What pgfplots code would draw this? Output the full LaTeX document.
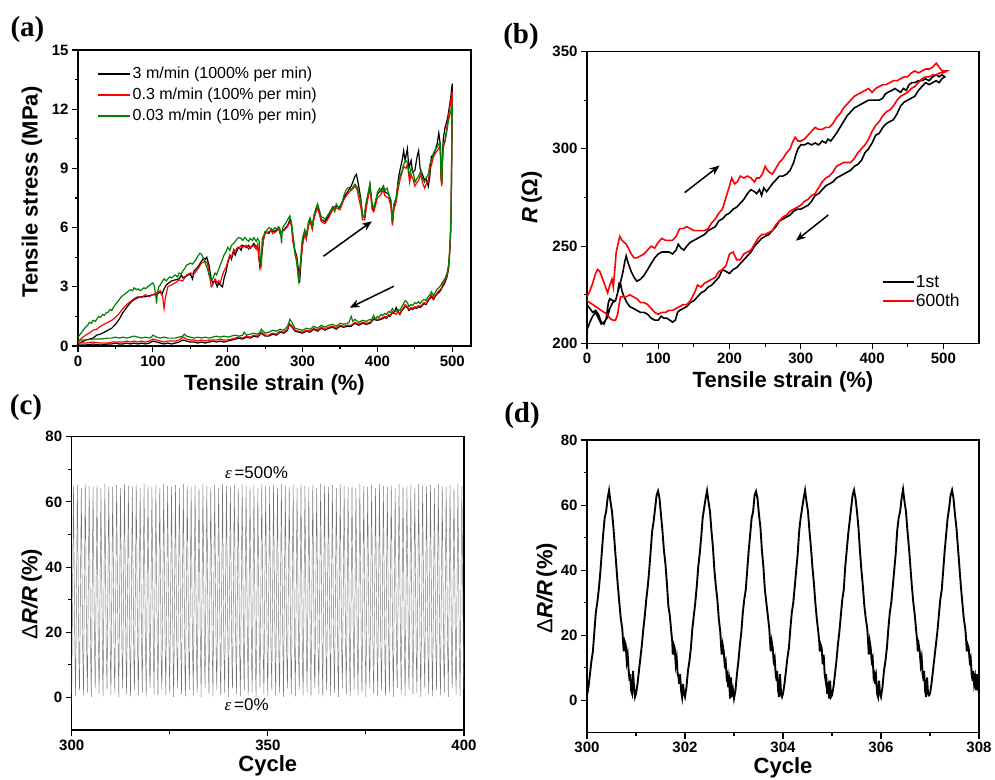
\documentclass[border=0pt]{standalone}
\usepackage{fontspec}
\setmainfont{Liberation Serif}
\setsansfont{Liberation Sans}
\usepackage{pgfplots}
\pgfplotsset{compat=1.18}
\usetikzlibrary{arrows.meta}
\definecolor{ogreen}{RGB}{0,128,0}
\definecolor{ored}{RGB}{255,0,0}
\newcommand{\tlfont}{\sffamily\bfseries\fontsize{15}{16}\selectfont}
\pgfplotsset{
  legend image code/.code={\draw[#1] (0pt,0pt) -- (31pt,0pt);},
  panel/.style={
    scale only axis,
    axis line style={line width=1.2pt},
    every tick/.style={line width=1.1pt, black},
    major tick length=6pt, minor tick length=3.5pt,
    tick align=outside,
    xtick pos=left, ytick pos=left,
    minor x tick num=1, minor y tick num=1,
    /pgf/number format/assume math mode=true,
    /pgf/number format/1000 sep={},
    xticklabel={\tlfont\pgfmathprintnumber{\tick}},
    yticklabel={\tlfont\pgfmathprintnumber{\tick}},
    tick label style={font=\tlfont},
    label style={font=\sffamily\bfseries\fontsize{22}{26}\selectfont},
    xlabel style={anchor=center},
    ylabel style={anchor=center},
    legend cell align=left,
  }
}
\begin{document}
\begin{tikzpicture}
\useasboundingbox (0,0) rectangle (995pt,779pt);
% ---------------- (a)
\begin{axis}[panel, at={(78pt,433pt)}, width=393pt, height=296pt,
  xmin=0, xmax=525, ymin=0, ymax=15,
  xtick={0,100,...,500}, ytick={0,3,...,15},
  xlabel={Tensile strain (\%)}, ylabel={Tensile stress (MPa)},
  xlabel style={at={(axis description cs:0.5,-0.132)}},
  ylabel style={at={(axis description cs:-0.117,0.52)}},
]
\addplot[black, line width=1.2pt] coordinates {
(0,0.15)(5,0.2)(10,0.3)(15,0.35)(20,0.4)(25,0.55)(30,0.6)(35,0.7)(40,0.8)(45,0.9)(50,1.1)(55,1.35)(60,1.7)(65,1.95)(70,2.2)(75,2.35)(80,2.45)(85,2.5)(90,2.5)(95,2.55)(100,2.6)(105,2.6)(110,2.75)(112,2.6)(115,2.9)(118,3.1)(120,3.15)(125,3.3)(130,3.35)(135,3.4)(138,3.6)(140,3.45)(145,3.55)(150,3.65)(153,3.4)(155,3.8)(160,4.0)(165,4.3)(168,4.45)(170,4.4)(172,4.5)(175,4.1)(178,3.4)(180,3.2)(183,3.3)(186,3.0)(188,3.2)(190,3.1)(193,3.0)(195,3.4)(198,3.8)(200,4.2)(203,4.6)(205,4.4)(208,4.8)(210,4.6)(213,4.9)(215,5.0)(218,4.85)(220,5.1)(225,5.0)(228,5.1)(230,4.95)(235,5.2)(238,5.0)(240,5.1)(242,4.4)(243,4.0)(245,4.4)(248,5.5)(250,5.8)(255,5.7)(258,5.9)(260,5.8)(265,5.85)(268,6.0)(270,5.7)(275,5.9)(280,6.1)(283,6.4)(285,6.2)(287,5.5)(290,4.8)(292,4.6)(294,4.0)(296,3.2)(298,4.3)(300,5.2)(303,5.8)(305,5.5)(308,6.2)(310,6.4)(313,6.0)(315,6.5)(318,6.9)(320,7.1)(323,6.7)(325,6.4)(330,6.3)(335,6.6)(340,7.0)(345,7.1)(350,7.0)(355,7.5)(360,7.8)(365,8.1)(368,8.4)(370,8.6)(372,8.7)(375,8.1)(378,7.4)(380,6.6)(383,6.5)(386,7.4)(390,8.2)(393,7.0)(395,6.9)(398,7.4)(400,7.7)(405,7.9)(408,8.1)(410,7.8)(415,7.7)(418,7.3)(420,6.2)(422,7.1)(425,7.5)(428,8.5)(430,8.9)(433,9.4)(435,9.9)(437,9.4)(440,10.0)(442,9.0)(445,9.4)(447,8.8)(450,8.9)(453,9.6)(455,9.9)(457,9.0)(460,8.7)(463,8.4)(465,8.5)(468,8.1)(470,8.6)(472,9.6)(475,9.7)(478,10.0)(480,10.3)(482,10.8)(484,10.2)(485,8.8)(486,8.2)(487,9.8)(488,10.5)(490,11.0)(492,11.3)(494,11.6)(496,12.1)(498,12.6)(499,13.0)(500,13.3)
(499.5,10.5)(499,8.5)(498.5,7.0)(498,5.9)(497,5.0)(496,4.4)(495,3.9)(493,3.5)(490,3.2)(487,3.0)(485,2.85)(482,2.7)(480,2.65)(477,2.5)(475,2.35)(472,2.5)(470,2.4)(467,2.25)(465,2.1)(462,2.15)(460,2.05)(457,1.95)(455,2.0)(452,1.9)(450,1.95)(447,1.85)(445,1.9)(442,1.8)(440,1.95)(437,2.0)(435,1.9)(432,1.75)(430,1.6)(427,1.8)(425,1.95)(422,1.65)(420,1.7)(417,1.5)(415,1.55)(412,1.4)(410,1.45)(405,1.35)(400,1.3)(395,1.35)(390,1.15)(385,1.1)(380,1.15)(375,1.05)(370,1.15)(365,1.0)(360,1.0)(355,0.95)(350,1.0)(345,0.85)(340,0.95)(335,0.9)(330,0.8)(325,0.9)(320,0.75)(315,0.85)(310,0.7)(305,0.75)(300,0.65)(295,0.7)(290,0.75)(285,1.0)(282,1.1)(280,0.8)(275,0.65)(270,0.7)(265,0.55)(260,0.6)(255,0.5)(250,0.5)(245,0.65)(240,0.45)(235,0.5)(230,0.4)(225,0.45)(220,0.35)(215,0.4)(210,0.35)(205,0.3)(200,0.25)(195,0.2)(190,0.25)(185,0.2)(180,0.25)(175,0.2)(170,0.15)(165,0.2)(160,0.15)(155,0.2)(150,0.2)(145,0.25)(140,0.3)(135,0.2)(130,0.15)(125,0.1)(120,0.15)(115,0.1)(110,0.15)(105,0.2)(100,0.25)(95,0.15)(90,0.1)(85,0.15)(80,0.1)(75,0.15)(70,0.1)(65,0.15)(60,0.1)(55,0.1)(50,0.15)(45,0.1)(40,0.1)(30,0.05)(20,0.1)(10,0.05)(0,0.05)
};
\addplot[ored, line width=1.2pt] coordinates {
(0,0.2)(5,0.4)(10,0.55)(15,0.65)(20,0.8)(25,0.85)(30,1.0)(35,1.1)(40,1.2)(45,1.3)(50,1.45)(55,1.65)(60,1.9)(65,2.1)(70,2.25)(75,2.4)(80,2.5)(85,2.45)(90,2.6)(95,2.5)(100,2.6)(105,2.7)(110,2.8)(113,2.5)(115,1.9)(117,2.5)(120,3.0)(125,3.1)(130,3.2)(135,3.35)(140,3.3)(145,3.6)(150,3.7)(155,3.65)(160,3.9)(165,4.2)(170,4.3)(173,4.2)(176,3.5)(178,3.0)(180,3.1)(183,3.4)(186,3.2)(188,3.3)(190,3.2)(193,3.6)(195,3.8)(198,4.0)(200,4.3)(203,4.6)(205,4.5)(208,4.9)(210,4.8)(213,5.0)(215,4.95)(218,5.1)(220,5.0)(225,5.1)(228,4.9)(230,5.0)(235,5.1)(238,4.9)(240,5.15)(242,4.3)(244,4.0)(246,5.0)(248,5.4)(250,5.7)(255,5.8)(258,5.85)(260,5.7)(265,5.8)(268,5.95)(270,5.75)(275,5.85)(280,6.05)(283,6.3)(285,6.1)(287,5.3)(290,4.7)(292,4.5)(294,3.6)(295,3.2)(297,4.1)(300,5.1)(303,5.7)(305,5.4)(308,6.1)(310,6.3)(313,5.9)(315,6.4)(318,6.8)(320,7.0)(323,6.6)(325,6.3)(330,6.2)(335,6.5)(340,6.9)(345,7.0)(350,6.9)(355,7.4)(360,7.7)(365,7.9)(368,8.0)(370,8.1)(373,7.9)(375,7.5)(378,7.0)(380,6.4)(383,6.4)(386,7.2)(390,8.0)(393,6.9)(395,6.8)(398,7.2)(400,7.5)(405,7.7)(408,7.9)(410,7.6)(415,7.5)(418,7.1)(420,6.1)(422,6.9)(425,7.3)(428,8.0)(430,8.4)(433,8.8)(435,9.1)(438,9.0)(440,9.2)(443,8.3)(445,8.7)(448,8.4)(450,8.1)(453,8.3)(455,8.4)(458,8.7)(460,8.3)(463,8.0)(465,8.2)(468,8.4)(470,8.9)(473,9.3)(475,9.6)(478,9.8)(480,9.9)(483,10.1)(484,9.8)(485,8.4)(486,8.1)(487,9.3)(488,10.0)(490,10.4)(492,10.9)(494,11.4)(496,11.9)(498,12.4)(500,12.9)
(499.5,10.8)(499,8.8)(498.5,7.2)(498,6.0)(497,5.1)(496,4.5)(495,4.0)(493,3.6)(490,3.3)(487,3.1)(485,2.9)(482,2.8)(480,2.7)(477,2.55)(475,2.4)(472,2.6)(470,2.45)(467,2.3)(465,2.15)(462,2.2)(460,2.1)(457,2.0)(455,2.05)(452,1.95)(450,2.0)(447,1.9)(445,1.95)(442,1.85)(440,2.0)(437,2.1)(435,1.95)(432,1.8)(430,1.65)(427,1.7)(425,1.6)(422,1.7)(420,1.75)(417,1.55)(415,1.6)(412,1.45)(410,1.5)(405,1.4)(400,1.35)(395,1.4)(390,1.2)(385,1.15)(380,1.2)(375,1.1)(370,1.2)(365,1.05)(360,1.05)(355,1.0)(350,1.05)(345,0.9)(340,1.0)(335,0.95)(330,0.85)(325,0.95)(320,0.8)(315,0.9)(310,0.75)(305,0.8)(300,0.7)(295,0.75)(290,0.8)(285,1.05)(282,1.15)(280,0.85)(275,0.7)(270,0.75)(265,0.6)(260,0.65)(255,0.55)(250,0.55)(245,0.7)(240,0.5)(235,0.55)(230,0.45)(225,0.5)(220,0.4)(215,0.45)(210,0.4)(205,0.35)(200,0.3)(195,0.3)(190,0.35)(185,0.3)(180,0.3)(175,0.3)(170,0.25)(165,0.3)(160,0.25)(155,0.3)(150,0.3)(145,0.35)(140,0.45)(135,0.3)(130,0.25)(125,0.25)(120,0.25)(115,0.2)(110,0.25)(105,0.3)(100,0.35)(95,0.25)(90,0.2)(85,0.25)(80,0.2)(75,0.25)(70,0.2)(65,0.25)(60,0.2)(55,0.2)(50,0.2)(45,0.2)(40,0.15)(30,0.15)(20,0.2)(10,0.15)(0,0.15)
};
\addplot[ogreen, line width=1.2pt] coordinates {
(0,0.45)(3,0.6)(5,0.7)(8,0.85)(10,0.95)(13,1.05)(15,1.2)(18,1.15)(20,1.3)(23,1.25)(25,1.35)(28,1.5)(30,1.45)(33,1.6)(35,1.55)(38,1.7)(40,1.7)(43,1.85)(45,1.8)(48,2.0)(50,2.1)(53,2.25)(55,2.35)(58,2.5)(60,2.55)(63,2.65)(65,2.7)(68,2.8)(70,2.85)(73,2.8)(75,2.95)(78,2.85)(80,2.9)(83,2.8)(85,2.85)(88,2.95)(90,2.9)(93,3.0)(95,3.05)(98,3.15)(100,3.2)(102,3.05)(104,2.5)(105,2.15)(106,2.7)(108,3.0)(110,3.1)(113,3.3)(115,3.4)(118,3.3)(120,3.4)(123,3.5)(125,3.45)(128,3.55)(130,3.6)(133,3.5)(135,3.7)(138,3.65)(140,3.8)(143,3.95)(145,4.1)(148,4.15)(150,4.2)(153,4.15)(155,4.25)(158,4.4)(160,4.55)(163,4.7)(165,4.65)(168,4.4)(170,4.2)(173,3.9)(175,3.6)(178,3.35)(180,3.4)(183,3.7)(185,3.6)(188,3.9)(190,4.1)(193,4.4)(195,4.6)(198,4.8)(200,5.0)(203,4.85)(205,5.1)(208,5.2)(210,5.3)(213,5.45)(215,5.5)(218,5.45)(220,5.35)(223,5.5)(225,5.4)(228,5.3)(230,5.45)(233,5.35)(235,5.5)(238,5.3)(240,5.45)(242,5.3)(244,4.2)(245,4.1)(246,5.4)(248,5.6)(250,5.75)(253,5.9)(255,6.0)(258,5.95)(260,5.85)(263,6.0)(265,5.9)(268,6.05)(270,5.9)(272,5.2)(273,5.95)(275,6.1)(278,6.25)(280,6.4)(283,6.6)(285,6.3)(288,5.4)(290,4.6)(292,4.3)(294,3.6)(295,3.3)(297,4.2)(299,5.2)(300,5.5)(303,5.9)(305,5.6)(308,6.3)(310,6.5)(313,6.1)(315,6.6)(318,7.0)(320,7.2)(323,6.8)(325,6.55)(328,6.5)(330,6.4)(333,6.6)(335,6.7)(338,6.9)(340,7.05)(343,6.8)(345,7.2)(348,7.0)(350,7.1)(353,7.3)(355,7.6)(358,7.9)(360,8.0)(363,8.05)(365,7.9)(368,8.1)(370,8.2)(373,8.05)(375,7.8)(378,7.3)(380,6.6)(382,6.55)(385,7.3)(388,7.8)(390,8.2)(393,7.2)(395,7.0)(398,7.4)(400,7.8)(403,8.0)(405,7.8)(408,8.05)(410,7.9)(413,8.0)(415,7.7)(418,7.4)(420,6.3)(422,7.2)(425,7.5)(428,8.3)(430,8.6)(433,8.9)(435,9.2)(438,9.4)(440,9.3)(443,8.6)(445,9.0)(448,8.8)(450,8.3)(453,8.5)(455,8.6)(458,8.9)(460,8.5)(463,8.3)(465,8.5)(468,8.7)(470,9.2)(473,9.5)(475,9.8)(478,10.0)(480,10.1)(483,10.3)(484,10.2)(485,8.6)(486,8.3)(487,9.6)(488,10.2)(490,10.3)(492,10.7)(494,11.2)(496,11.6)(498,11.9)(500,12.3)
(499.5,11.0)(499,9.0)(498.5,7.5)(498,6.3)(497,5.3)(496,4.6)(495,4.1)(493,3.7)(490,3.4)(487,3.25)(485,3.1)(482,2.95)(480,2.9)(477,2.7)(475,2.55)(472,2.75)(470,2.6)(467,2.45)(465,2.3)(462,2.35)(460,2.3)(457,2.15)(455,2.25)(452,2.15)(450,2.2)(447,2.05)(445,2.1)(442,2.0)(440,2.2)(437,2.3)(435,2.15)(432,1.95)(430,1.8)(427,1.85)(425,1.75)(422,1.8)(420,1.9)(417,1.7)(415,1.75)(412,1.6)(410,1.65)(407,1.55)(405,1.6)(402,1.45)(400,1.5)(397,1.35)(395,1.55)(392,1.3)(390,1.35)(385,1.25)(380,1.3)(375,1.2)(370,1.35)(367,1.25)(365,1.5)(362,1.2)(360,1.15)(355,1.1)(350,1.15)(345,1.0)(340,1.1)(335,1.05)(330,0.95)(325,1.05)(320,0.9)(315,1.0)(310,0.85)(305,0.9)(300,0.8)(295,0.85)(290,0.9)(285,1.25)(283,1.35)(280,1.0)(275,0.8)(270,0.85)(265,0.75)(260,0.8)(255,0.7)(250,0.65)(245,0.85)(243,0.7)(240,0.6)(235,0.65)(230,0.6)(225,0.55)(222,0.7)(220,0.55)(215,0.5)(210,0.55)(205,0.5)(200,0.45)(195,0.5)(190,0.45)(185,0.5)(180,0.45)(175,0.4)(170,0.45)(165,0.4)(160,0.45)(155,0.4)(150,0.45)(145,0.5)(142,0.6)(140,0.5)(135,0.45)(130,0.4)(125,0.4)(120,0.4)(115,0.45)(110,0.4)(105,0.45)(100,0.55)(98,0.45)(95,0.4)(90,0.45)(85,0.4)(80,0.45)(75,0.5)(70,0.45)(65,0.4)(60,0.45)(55,0.4)(50,0.45)(45,0.4)(40,0.4)(30,0.35)(20,0.35)(10,0.3)(0,0.3)
};
\draw[line width=1.5pt, -{Stealth[length=10pt,width=8pt]}] (axis cs:328,4.55) -- (axis cs:392.6,6.32);
\draw[line width=1.5pt, -{Stealth[length=10pt,width=8pt]}] (axis cs:422,3.03) -- (axis cs:363,1.94);
% legend (a)
\draw[black, line width=1.4pt] (axis description cs:0.051,0.919) -- ++(32pt,0pt)
  node[right, inner sep=2pt, text=black, font=\sffamily\fontsize{16}{18}\selectfont] {3 m/min (1000\% per min)};
\draw[ored, line width=1.4pt] (axis description cs:0.051,0.848) -- ++(32pt,0pt)
  node[right, inner sep=2pt, text=black, font=\sffamily\fontsize{16}{18}\selectfont] {0.3 m/min (100\% per min)};
\draw[ogreen, line width=1.4pt] (axis description cs:0.051,0.777) -- ++(32pt,0pt)
  node[right, inner sep=2pt, text=black, font=\sffamily\fontsize{16}{18}\selectfont] {0.03 m/min (10\% per min)};
\end{axis}
% ---------------- (b)
\begin{axis}[panel, at={(587pt,435.5pt)}, width=392pt, height=292pt,
  xmin=0, xmax=550, ymin=200, ymax=350,
  xtick={0,100,...,500}, ytick={200,250,300,350},
  xlabel={Tensile strain (\%)}, ylabel={\textit{R}\,(Ω)},
  xlabel style={at={(axis description cs:0.5,-0.131)}},
  ylabel style={at={(axis description cs:-0.141,0.5)}},
  legend style={at={(axis description cs:0.745,0.245)}, anchor=north west, draw=none, fill=none,
    font=\sffamily\fontsize{17.5}{19}\selectfont, row sep=3pt, nodes={inner sep=1pt}},
]
\addplot[black, line width=1.6pt] coordinates {
(0,207)(4,211)(8,214)(12,216)(16,213)(20,210)(24,211)(28,213)(32,218)(36,221)(40,222)(43,226)(46,230)(50,236)(53,242)(55,245)(58,241)(62,237)(66,234)(70,232)(75,233)(80,235)(85,238)(90,241)(95,244)(100,246)(105,247)(110,247)(115,247)(120,246)(125,248)(128,251)(132,249)(136,248)(140,250)(145,252)(150,253)(155,254)(160,255)(165,256)(170,258)(175,259)(180,260)(185,263)(190,264)(195,266)(200,267)(205,269)(210,270)(215,272)(220,274)(225,277)(230,279)(235,278)(238,277)(242,279)(245,276)(248,280)(252,278)(256,280)(260,282)(265,284)(270,286)(275,286)(280,287)(285,289)(290,293)(293,297)(296,300)(300,302)(305,302)(310,303)(315,302)(320,303)(325,302)(330,304)(335,303)(338,305)(342,304)(346,306)(350,308)(355,311)(360,314)(365,317)(370,319)(375,321)(380,322)(385,323)(390,324)(395,325)(400,325)(405,325)(410,325)(415,326)(418,328)(422,329)(428,330)(432,331)(436,330)(440,329)(444,331)(448,330)(452,333)(456,334)(460,334)(465,335)(470,335)(475,336)(480,335)(485,337)(490,338)(494,337)(498,338)(502,337)
(498,336)(494,334)(490,335)(485,334)(480,333)(475,334)(470,332)(465,330)(460,327)(455,326)(450,325)(445,324)(440,322)(435,318)(430,315)(425,314)(420,313)(415,311)(410,308)(405,307)(400,303)(395,300)(390,298)(385,294)(380,292)(375,291)(370,289)(365,288)(360,287)(355,286)(350,285)(345,283)(340,282)(335,281)(330,279)(325,277)(320,276)(315,273)(310,271)(305,270)(300,269)(295,269)(290,268)(285,266)(280,265)(275,264)(270,263)(265,260)(260,258)(255,256)(250,255)(245,254)(240,252)(235,250)(230,247)(225,245)(220,243)(215,241)(210,239)(205,238)(200,236)(195,237)(190,238)(185,234)(180,232)(175,230)(170,229)(165,227)(160,226)(155,224)(150,222)(145,221)(140,219)(135,218)(130,217)(127,216)(124,212)(120,211)(116,212)(112,213)(108,213)(104,214)(100,212)(95,212)(90,213)(85,215)(80,216)(75,216)(70,217)(65,218)(60,219)(56,221)(52,224)(49,227)(47,231)(45,231)(43,226)(40,222)(36,222)(32,223)(30,221)(27,213)(24,210)(20,211)(16,215)(12,217)(8,216)(4,218)(0,220)
};
\addlegendentry{1st}
\addplot[ored, line width=1.6pt] coordinates {
(0,224)(4,227)(8,231)(12,236)(15,238)(18,237)(22,233)(26,229)(29,226)(32,230)(35,233)(37,229)(39,238)(41,247)(44,252)(46,255)(49,253)(52,252)(55,251)(58,249)(62,246)(66,244)(70,244)(75,245)(80,246)(85,248)(90,250)(95,249)(100,252)(105,254)(110,253)(115,253)(120,253)(125,255)(130,259)(135,259)(140,260)(145,259)(150,258)(155,258)(160,258)(165,258)(170,259)(175,262)(180,264)(185,267)(190,269)(195,275)(200,281)(203,285)(207,282)(211,283)(215,286)(220,285)(225,286)(230,285)(235,283)(238,285)(242,285)(246,287)(250,291)(253,289)(256,288)(260,287)(265,290)(270,293)(275,295)(280,298)(285,300)(288,303)(292,306)(296,304)(300,304)(305,305)(310,307)(315,309)(320,311)(325,310)(330,310)(335,311)(340,311)(345,313)(350,316)(355,318)(360,321)(365,323)(370,325)(375,327)(380,328)(385,329)(390,330)(395,331)(400,329)(405,331)(410,332)(415,333)(420,333)(425,334)(430,335)(435,335)(440,336)(445,337)(450,337)(455,339)(460,340)(465,339)(470,340)(475,341)(480,341)(485,342)(490,344)(494,342)(498,340)(502,340)(505,340)
(500,339)(495,339)(490,338)(485,338)(480,337)(475,337)(470,336)(465,334)(460,332)(455,331)(450,329)(445,328)(440,327)(435,325)(430,322)(425,320)(420,319)(415,317)(410,314)(405,312)(400,309)(395,305)(390,302)(385,300)(380,298)(375,295)(370,293)(365,293)(360,293)(355,292)(350,291)(345,288)(340,286)(335,285)(330,283)(325,280)(320,277)(315,276)(310,274)(305,273)(300,271)(295,270)(290,269)(285,268)(280,266)(275,265)(270,263)(265,261)(260,258)(255,257)(250,256)(245,256)(240,254)(235,251)(230,248)(225,247)(220,246)(215,243)(210,243)(205,247)(200,246)(195,240)(190,238)(185,237)(180,234)(175,233)(170,232)(165,231)(160,229)(155,230)(152,227)(148,224)(145,222)(140,220)(135,220)(130,219)(125,218)(120,217)(115,217)(110,216)(105,216)(100,215)(95,216)(90,218)(85,220)(80,221)(75,221)(70,223)(65,224)(60,225)(55,224)(50,224)(47,224)(45,220)(43,215)(40,212)(36,212)(32,213)(28,215)(24,216)(20,217)(16,218)(12,219)(8,220)(4,221)(0,222)
};
\addlegendentry{600th}
\draw[line width=1.5pt, -{Stealth[length=10pt,width=8pt]}] (axis cs:137,277.5) -- (axis cs:186,291.4);
\draw[line width=1.5pt, -{Stealth[length=10pt,width=8pt]}] (axis cs:338.5,266) -- (axis cs:293,252.8);
\end{axis}
% ---------------- (c)
\begin{axis}[panel, at={(71.7pt,49pt)}, width=392.3pt, height=293.3pt,
  xmin=300, xmax=400, ymin=-10, ymax=80,
  xtick={300,350,400}, ytick={0,20,...,80},
  xlabel={Cycle}, ylabel={{\mdseries Δ}\textit{R/R}\,(\%)},
  xlabel style={at={(axis description cs:0.5,-0.123)}},
  ylabel style={at={(axis description cs:-0.102,0.464)}},
]
\addplot[black!55, line width=0.45pt] coordinates {
(300,1.0)(300.45,64.6)(300.78,18)(300.88,9)(301,0.3)(301.45,65.2)(301.78,20)(301.88,7)(302,2.2)(302.45,64.3)(302.78,16)(302.88,10)(303,0.6)(303.45,65.5)(303.78,19)(303.88,9)(304,1.5)(304.45,64.9)(304.78,18)(304.88,7)
(305,0.2)(305.45,64.6)(305.78,20)(305.88,10)(306,2.8)(306.45,65.2)(306.78,16)(306.88,9)(307,1.0)(307.45,64.3)(307.78,19)(307.88,7)(308,0.3)(308.45,65.5)(308.78,18)(308.88,10)(309,2.2)(309.45,64.9)(309.78,20)(309.88,9)
(310,0.6)(310.45,64.6)(310.78,16)(310.88,7)(311,1.5)(311.45,65.2)(311.78,19)(311.88,10)(312,0.2)(312.45,64.3)(312.78,18)(312.88,9)(313,2.8)(313.45,65.5)(313.78,20)(313.88,7)(314,1.0)(314.45,64.9)(314.78,16)(314.88,10)
(315,0.3)(315.45,64.6)(315.78,19)(315.88,9)(316,2.2)(316.45,65.2)(316.78,18)(316.88,7)(317,0.6)(317.45,64.3)(317.78,20)(317.88,10)(318,1.5)(318.45,65.5)(318.78,16)(318.88,9)(319,0.2)(319.45,64.9)(319.78,19)(319.88,7)
(320,2.8)(320.45,64.6)(320.78,18)(320.88,10)(321,1.0)(321.45,65.2)(321.78,20)(321.88,9)(322,0.3)(322.45,64.3)(322.78,16)(322.88,7)(323,2.2)(323.45,65.5)(323.78,19)(323.88,10)(324,0.6)(324.45,64.9)(324.78,18)(324.88,9)
(325,1.5)(325.45,64.6)(325.78,20)(325.88,7)(326,0.2)(326.45,65.2)(326.78,16)(326.88,10)(327,2.8)(327.45,64.3)(327.78,19)(327.88,9)(328,1.0)(328.45,65.5)(328.78,18)(328.88,7)(329,0.3)(329.45,64.9)(329.78,20)(329.88,10)
(330,2.2)(330.45,64.6)(330.78,16)(330.88,9)(331,0.6)(331.45,65.2)(331.78,19)(331.88,7)(332,1.5)(332.45,64.3)(332.78,18)(332.88,10)(333,0.2)(333.45,65.5)(333.78,20)(333.88,9)(334,2.8)(334.45,64.9)(334.78,16)(334.88,7)
(335,1.0)(335.45,64.6)(335.78,19)(335.88,10)(336,0.3)(336.45,65.2)(336.78,18)(336.88,9)(337,2.2)(337.45,64.3)(337.78,20)(337.88,7)(338,0.6)(338.45,65.5)(338.78,16)(338.88,10)(339,1.5)(339.45,64.9)(339.78,19)(339.88,9)
(340,0.2)(340.45,64.6)(340.78,18)(340.88,7)(341,2.8)(341.45,65.2)(341.78,20)(341.88,10)(342,1.0)(342.45,64.3)(342.78,16)(342.88,9)(343,0.3)(343.45,65.5)(343.78,19)(343.88,7)(344,2.2)(344.45,64.9)(344.78,18)(344.88,10)
(345,0.6)(345.45,64.6)(345.78,20)(345.88,9)(346,1.5)(346.45,65.2)(346.78,16)(346.88,7)(347,0.2)(347.45,64.3)(347.78,19)(347.88,10)(348,2.8)(348.45,65.5)(348.78,18)(348.88,9)(349,1.0)(349.45,64.9)(349.78,20)(349.88,7)
(350,0.3)(350.45,64.6)(350.78,16)(350.88,10)(351,2.2)(351.45,65.2)(351.78,19)(351.88,9)(352,0.6)(352.45,64.3)(352.78,18)(352.88,7)(353,1.5)(353.45,65.5)(353.78,20)(353.88,10)(354,0.2)(354.45,64.9)(354.78,16)(354.88,9)
(355,2.8)(355.45,64.6)(355.78,19)(355.88,7)(356,1.0)(356.45,65.2)(356.78,18)(356.88,10)(357,0.3)(357.45,64.3)(357.78,20)(357.88,9)(358,2.2)(358.45,65.5)(358.78,16)(358.88,7)(359,0.6)(359.45,64.9)(359.78,19)(359.88,10)
(360,1.5)(360.45,64.6)(360.78,18)(360.88,9)(361,0.2)(361.45,65.2)(361.78,20)(361.88,7)(362,2.8)(362.45,64.3)(362.78,16)(362.88,10)(363,1.0)(363.45,65.5)(363.78,19)(363.88,9)(364,0.3)(364.45,64.9)(364.78,18)(364.88,7)
(365,2.2)(365.45,64.6)(365.78,20)(365.88,10)(366,0.6)(366.45,65.2)(366.78,16)(366.88,9)(367,1.5)(367.45,64.3)(367.78,19)(367.88,7)(368,0.2)(368.45,65.5)(368.78,18)(368.88,10)(369,2.8)(369.45,64.9)(369.78,20)(369.88,9)
(370,1.0)(370.45,64.6)(370.78,16)(370.88,7)(371,0.3)(371.45,65.2)(371.78,19)(371.88,10)(372,2.2)(372.45,64.3)(372.78,18)(372.88,9)(373,0.6)(373.45,65.5)(373.78,20)(373.88,7)(374,1.5)(374.45,64.9)(374.78,16)(374.88,10)
(375,0.2)(375.45,64.6)(375.78,19)(375.88,9)(376,2.8)(376.45,65.2)(376.78,18)(376.88,7)(377,1.0)(377.45,64.3)(377.78,20)(377.88,10)(378,0.3)(378.45,65.5)(378.78,16)(378.88,9)(379,2.2)(379.45,64.9)(379.78,19)(379.88,7)
(380,0.6)(380.45,64.6)(380.78,18)(380.88,10)(381,1.5)(381.45,65.2)(381.78,20)(381.88,9)(382,0.2)(382.45,64.3)(382.78,16)(382.88,7)(383,2.8)(383.45,65.5)(383.78,19)(383.88,10)(384,1.0)(384.45,64.9)(384.78,18)(384.88,9)
(385,0.3)(385.45,64.6)(385.78,20)(385.88,7)(386,2.2)(386.45,65.2)(386.78,16)(386.88,10)(387,0.6)(387.45,64.3)(387.78,19)(387.88,9)(388,1.5)(388.45,65.5)(388.78,18)(388.88,7)(389,0.2)(389.45,64.9)(389.78,20)(389.88,10)
(390,2.8)(390.45,64.6)(390.78,16)(390.88,9)(391,1.0)(391.45,65.2)(391.78,19)(391.88,7)(392,0.3)(392.45,64.3)(392.78,18)(392.88,10)(393,2.2)(393.45,65.5)(393.78,20)(393.88,9)(394,0.6)(394.45,64.9)(394.78,16)(394.88,7)
(395,1.5)(395.45,64.6)(395.78,19)(395.88,10)(396,0.2)(396.45,65.2)(396.78,18)(396.88,9)(397,2.8)(397.45,64.3)(397.78,20)(397.88,7)(398,1.0)(398.45,65.5)(398.78,16)(398.88,10)(399,0.3)(399.45,64.9)(399.78,19)(399.88,9)(400,2.2)
};
\node[font=\sffamily\fontsize{17}{19}\selectfont] at (axis cs:347.1,68.95) {{\rmfamily\itshape ε}\,=500\%};
\node[font=\sffamily\fontsize{17}{19}\selectfont] at (axis cs:344.6,-2.3) {{\rmfamily\itshape ε}\,=0\%};
\end{axis}
% ---------------- (d)
\begin{axis}[panel, at={(587pt,46.3pt)}, width=392pt, height=292.7pt,
  xmin=300, xmax=308, ymin=-10, ymax=80,
  xtick={300,302,...,308}, ytick={0,20,...,80},
  xlabel={Cycle}, ylabel={{\mdseries Δ}\textit{R/R}\,(\%)},
  xlabel style={at={(axis description cs:0.5,-0.121)}},
  ylabel style={at={(axis description cs:-0.103,0.494)}},
]
\addplot[black, line width=1.9pt] coordinates {
(300.00,1.5)(300.03,4)(300.06,8)(300.09,12)(300.12,15)(300.15,21)(300.18,27)(300.21,30)(300.24,34)(300.27,39)(300.30,45)(300.33,51)(300.36,56)(300.39,58)(300.42,62)(300.45,64.5)(300.48,61)(300.51,58)(300.54,53)(300.57,47)(300.60,41)(300.63,35)(300.66,30)(300.69,25)(300.72,22)(300.74,17)(300.75,15)(300.77,18)(300.79,17)(300.81,12)(300.83,14)(300.85,9)(300.87,6)(300.88,8)(300.90,3)(300.92,2)(300.94,9)(300.96,4)(300.98,1)
(301.00,2)(301.03,5)(301.06,9)(301.09,13)(301.12,17)(301.15,22)(301.18,26)(301.21,31)(301.24,35)(301.27,40)(301.30,46)(301.33,52)(301.36,55)(301.39,59)(301.42,63)(301.45,64.3)(301.48,62)(301.51,57)(301.54,52)(301.57,46)(301.60,42)(301.63,36)(301.66,29)(301.69,26)(301.72,21)(301.74,18)(301.75,14)(301.77,17)(301.79,16)(301.81,11)(301.83,13)(301.85,8)(301.87,7)(301.88,5)(301.90,8)(301.92,3)(301.94,1)(301.96,5)(301.98,2)
(302.00,1)(302.03,4)(302.06,9)(302.09,12)(302.12,16)(302.15,22)(302.18,26)(302.21,30)(302.24,35)(302.27,41)(302.30,45)(302.33,50)(302.36,56)(302.39,59)(302.42,62)(302.45,64.4)(302.48,61)(302.51,58)(302.54,52)(302.57,47)(302.60,40)(302.63,35)(302.66,31)(302.69,25)(302.72,21)(302.74,16)(302.75,14)(302.77,17)(302.79,15)(302.81,11)(302.83,12)(302.85,7)(302.87,8)(302.88,4)(302.90,6)(302.92,0.5)(302.94,7)(302.96,1)(302.98,3)
(303.00,0.5)(303.03,3)(303.06,8)(303.09,12)(303.12,17)(303.15,21)(303.18,27)(303.21,31)(303.24,34)(303.27,40)(303.30,46)(303.33,51)(303.36,56)(303.39,58)(303.42,63)(303.45,64.2)(303.48,62)(303.51,57)(303.54,53)(303.57,46)(303.60,41)(303.63,34)(303.66,30)(303.69,26)(303.72,22)(303.74,17)(303.75,15)(303.77,18)(303.79,16)(303.81,12)(303.83,13)(303.85,8)(303.87,6)(303.88,9)(303.90,3)(303.92,1)(303.94,8)(303.96,2)(303.98,1)
(304.00,2)(304.03,5)(304.06,9)(304.09,13)(304.12,16)(304.15,22)(304.18,27)(304.21,30)(304.24,35)(304.27,40)(304.30,45)(304.33,52)(304.36,56)(304.39,59)(304.42,62)(304.45,64.5)(304.48,61)(304.51,58)(304.54,52)(304.57,47)(304.60,41)(304.63,36)(304.66,30)(304.69,25)(304.72,21)(304.74,18)(304.75,15)(304.77,17)(304.79,16)(304.81,11)(304.83,14)(304.85,8)(304.87,6)(304.88,8)(304.90,2)(304.92,4)(304.94,0.5)(304.96,6)(304.98,1)
(305.00,1.5)(305.03,4)(305.06,8)(305.09,12)(305.12,17)(305.15,21)(305.18,26)(305.21,31)(305.24,34)(305.27,41)(305.30,46)(305.33,51)(305.36,55)(305.39,59)(305.42,63)(305.45,64.6)(305.48,62)(305.51,58)(305.54,53)(305.57,46)(305.60,40)(305.63,35)(305.66,29)(305.69,25)(305.72,22)(305.74,17)(305.75,14)(305.77,18)(305.79,16)(305.81,12)(305.83,13)(305.85,7)(305.87,8)(305.88,5)(305.90,7)(305.92,2)(305.94,1)(305.96,6)(305.98,2)
(306.00,1)(306.03,4)(306.06,9)(306.09,12)(306.12,16)(306.15,22)(306.18,27)(306.21,30)(306.24,35)(306.27,40)(306.30,45)(306.33,52)(306.36,56)(306.39,58)(306.42,62)(306.45,64.8)(306.48,61)(306.51,58)(306.54,52)(306.57,47)(306.60,41)(306.63,35)(306.66,30)(306.69,26)(306.72,21)(306.74,18)(306.75,15)(306.77,17)(306.79,15)(306.81,11)(306.83,13)(306.85,8)(306.87,6)(306.88,9)(306.90,3)(306.92,1)(306.94,7)(306.96,2)(306.98,1.5)
(307.00,2)(307.03,5)(307.06,9)(307.09,13)(307.12,17)(307.15,21)(307.18,26)(307.21,31)(307.24,34)(307.27,40)(307.30,46)(307.33,51)(307.36,56)(307.39,59)(307.42,63)(307.45,64.6)(307.48,62)(307.51,57)(307.54,53)(307.57,47)(307.60,41)(307.63,35)(307.66,30)(307.69,25)(307.72,22)(307.74,18)(307.75,15)(307.77,17)(307.79,16)(307.81,12)(307.83,13)(307.85,8)(307.87,6)(307.88,9)(307.90,5)(307.92,7)(307.94,3)(307.96,8)(307.98,4)(308.00,2)
};
\end{axis}
% panel labels
\node[font=\rmfamily\bfseries\fontsize{29}{30}\selectfont] at (27.5pt,749pt) {(a)};
\node[font=\rmfamily\bfseries\fontsize{29}{30}\selectfont] at (521pt,742pt) {(b)};
\node[font=\rmfamily\bfseries\fontsize{29}{30}\selectfont] at (26pt,371pt) {(c)};
\node[font=\rmfamily\bfseries\fontsize{29}{30}\selectfont] at (522pt,363pt) {(d)};
\end{tikzpicture}
\end{document}
